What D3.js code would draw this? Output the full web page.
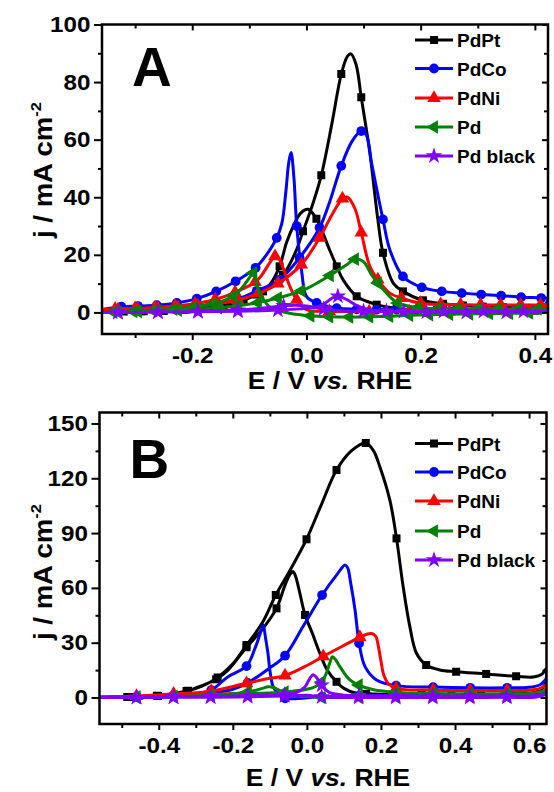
<!DOCTYPE html>
<html>
<head>
<meta charset="utf-8">
<script src="https://cdn.jsdelivr.net/npm/d3@7"></script>
<style>
body { margin: 0; background: #fff; }
svg text { font-family: 'Liberation Sans', Arial, sans-serif; font-weight: bold; fill: #000; }
</style>
</head>
<body>
<div class="chart"></div>
<script>
// legend / series
var seriesNames  = ['PdPt', 'PdCo', 'PdNi', 'Pd', 'Pd black'];
var seriesColors = ['#000000', '#0000ff', '#ff0000', '#008000', '#8000ff'];

/* panel A : [E (V vs RHE), j (mA cm-2), marker?] forward then backward scan */
var aPdPtFwd = [[-0.358,0.2,0],[-0.32,0.3,1],[-0.285,0.4,1],[-0.25,0.6,1],[-0.215,0.9,1],[-0.18,1.4,1],[-0.145,2.5,1],[-0.11,4.3,1],[-0.076,7.3,1],[-0.041,13,1],[-0.018,21.5,0],[-0.006,28.2,1],[0.01,37,0],[0.026,47.6,1],[0.045,66,0],[0.061,82.8,1],[0.072,89,0],[0.078,89.8,0],[0.087,86,0],[0.096,74.7,1],[0.111,55.5,0],[0.125,32.3,0],[0.134,20.7,1],[0.152,10.2,0],[0.169,7.3,1],[0.204,4.2,1],[0.239,3,1],[0.274,2.4,1],[0.309,2,1],[0.344,1.8,1],[0.379,1.6,1],[0.414,1.6,1],[0.423,1.7,0]];
var aPdPtBwd = [[0.423,1.7,0],[0.4,0.6,1],[0.33,0.5,1],[0.26,0.6,1],[0.19,0.9,1],[0.158,1.4,1],[0.123,2.7,1],[0.088,5.6,1],[0.064,11.4,0],[0.053,16,1],[0.041,21.5,0],[0.0175,32.5,1],[0.003,35.8,0],[-0.01,34.5,0],[-0.023,30,0],[-0.035,24.2,0],[-0.047,16,1],[-0.064,9.7,0],[-0.088,6.2,1],[-0.116,3.8,0],[-0.13,3,1],[-0.17,1.6,1],[-0.21,1,1],[-0.25,0.6,1],[-0.29,0.4,1],[-0.33,0.3,1],[-0.358,0.2,0]];
var aPdCoFwd = [[-0.358,1,0],[-0.33,1,1],[-0.295,1.2,1],[-0.26,1.4,1],[-0.225,1.7,1],[-0.19,2.2,1],[-0.155,3,1],[-0.122,4.5,1],[-0.087,7.5,1],[-0.047,11.4,1],[-0.012,19,1],[0.023,29.4,1],[0.04,38,0],[0.061,50.9,1],[0.08,59.5,0],[0.096,63,1],[0.105,61.5,0],[0.114,52,0],[0.134,32.3,1],[0.146,21.8,0],[0.169,12.5,1],[0.202,8.7,1],[0.237,7.3,1],[0.272,6.7,1],[0.306,6.2,1],[0.341,5.8,1],[0.376,5.3,1],[0.411,5,1],[0.423,4.8,0]];
var aPdCoBwd = [[0.423,4.8,0],[0.412,1.5,0],[0.403,1.2,1],[0.368,1.1,1],[0.333,1,1],[0.298,1,1],[0.263,1,1],[0.228,1,1],[0.193,1,1],[0.158,1,1],[0.123,1,1],[0.088,1.1,1],[0.053,1.5,1],[0.018,3.3,1],[0,5.6,0],[-0.008,13.7,0],[-0.017,30,1],[-0.022,47,0],[-0.027,55.5,0],[-0.031,52,0],[-0.036,42,0],[-0.043,31,0],[-0.052,25.9,1],[-0.07,20,0],[-0.089,15.5,1],[-0.124,10.8,1],[-0.158,7.3,1],[-0.192,4.8,1],[-0.227,3.3,1],[-0.262,2.5,1],[-0.295,2.2,1],[-0.324,2,1],[-0.358,1,0]];
var aPdNiFwd = [[-0.358,1,0],[-0.33,1,1],[-0.295,1.1,1],[-0.26,1.3,1],[-0.225,1.7,1],[-0.19,2.2,1],[-0.155,3.1,1],[-0.12,4.3,1],[-0.085,6.5,1],[-0.05,10,1],[-0.009,16.6,1],[0.023,25.9,1],[0.045,34,0],[0.063,39.5,1],[0.072,40,0],[0.085,36,0],[0.096,27.7,1],[0.111,16,0],[0.125,11.4,1],[0.146,6.7,0],[0.166,5,1],[0.2,3.2,1],[0.235,2.8,1],[0.27,2.7,1],[0.305,2.6,1],[0.34,2.6,1],[0.375,2.6,1],[0.41,2.6,1],[0.423,2.6,0]];
var aPdNiBwd = [[0.423,2.6,0],[0.415,0.8,0],[0.39,0.5,1],[0.32,0.4,1],[0.25,0.3,1],[0.18,0.3,1],[0.11,0.3,1],[0.04,0.4,1],[0,1,0],[-0.017,4.4,1],[-0.029,9,0],[-0.04,15,0],[-0.05,19.2,0],[-0.055,19.5,1],[-0.065,17,0],[-0.08,12.5,0],[-0.09,10.5,1],[-0.125,7,1],[-0.16,4.5,1],[-0.195,3,1],[-0.23,2.2,1],[-0.265,1.7,1],[-0.3,1.4,1],[-0.335,1.2,1],[-0.358,1,0]];
var aPdFwd = [[-0.358,0,0],[-0.33,0.1,1],[-0.295,0.3,1],[-0.26,0.5,1],[-0.225,0.8,1],[-0.19,1.1,1],[-0.155,1.6,1],[-0.12,2.3,1],[-0.085,3.4,1],[-0.05,5,1],[-0.009,7.5,1],[0.003,8.5,0],[0.041,12.8,1],[0.07,16.5,0],[0.085,18.5,1],[0.1,17.6,0],[0.114,13,0],[0.125,10.2,1],[0.146,5.5,0],[0.16,3.3,1],[0.195,1.6,1],[0.23,1.3,1],[0.265,1.2,1],[0.3,1.2,1],[0.335,1.2,1],[0.37,1.2,1],[0.405,1.2,1],[0.423,1.2,0]];
var aPdBwd = [[0.423,1.2,0],[0.415,0,0],[0.39,-0.2,1],[0.355,-0.3,1],[0.32,-0.4,1],[0.285,-0.5,1],[0.25,-0.6,1],[0.215,-0.8,1],[0.18,-1,1],[0.145,-1.3,1],[0.11,-1.5,1],[0.075,-1.6,1],[0.04,-1.5,1],[0.007,-1.2,1],[-0.03,-0.3,0],[-0.05,0.8,0],[-0.065,2,0],[-0.075,4.4,0],[-0.084,7.9,0],[-0.093,13.7,1],[-0.1,12,0],[-0.111,9,0],[-0.128,5.6,1],[-0.163,3,1],[-0.198,1.8,1],[-0.233,1.1,1],[-0.268,0.6,1],[-0.303,0.3,1],[-0.338,0.1,1],[-0.358,0,0]];
var aPdBlackFwd = [[-0.358,0,0],[-0.33,0,1],[-0.26,0.1,1],[-0.19,0.3,1],[-0.12,0.8,1],[-0.07,1.6,0],[-0.04,2.3,1],[-0.02,2.5,0],[0,2.2,0],[0.03,1.2,1],[0.06,0.6,0],[0.1,0.4,1],[0.17,0.3,1],[0.24,0.3,1],[0.31,0.3,1],[0.38,0.3,1],[0.423,0.3,0]];
var aPdBlackBwd = [[0.423,0.3,0],[0.35,0,1],[0.28,0,1],[0.21,0.1,1],[0.14,0.4,1],[0.11,1,0],[0.09,2.2,0],[0.07,4.5,0],[0.055,5.6,1],[0.045,5,0],[0.035,3.5,0],[0.02,2,0],[0,1.4,0],[-0.05,0.8,1],[-0.12,0.4,1],[-0.19,0.2,1],[-0.26,0.1,1],[-0.33,0,1],[-0.358,0,0]];

/* panel B */
var bPdPtFwd = [[-0.56,0,0],[-0.48,0.3,1],[-0.402,0.8,1],[-0.321,3.7,1],[-0.28,6.5,0],[-0.241,11,1],[-0.2,18.5,0],[-0.163,28.7,1],[-0.12,41,0],[-0.084,56.1,1],[-0.05,68,0],[-0.023,78,0],[-0.001,86.6,1],[0.04,106,0],[0.08,124.5,1],[0.12,135,0],[0.159,139.3,1],[0.18,135,0],[0.197,126.3,0],[0.224,108,0],[0.242,87.1,1],[0.26,60.6,0],[0.278,38.8,0],[0.296,24.2,0],[0.322,17.8,1],[0.359,15.1,0],[0.403,14.1,1],[0.484,12.9,1],[0.565,11.6,1],[0.611,11.2,0],[0.635,12.8,0],[0.647,16,0]];
var bPdPtBwd = [[0.647,16,0],[0.64,6,0],[0.62,3,0],[0.55,2,1],[0.47,1.8,1],[0.39,1.6,1],[0.31,1.5,1],[0.23,1.5,1],[0.16,2,1],[0.134,2.3,0],[0.1,5,0],[0.08,8.6,1],[0.055,15,0],[0.035,24.2,0],[0.015,35,0],[-0.005,45.2,1],[-0.02,58,0],[-0.03,66,0],[-0.037,68.9,0],[-0.045,67.5,0],[-0.06,61,0],[-0.082,48.8,1],[-0.122,36.9,0],[-0.163,27.5,1],[-0.213,15,0],[-0.245,10,1],[-0.303,5,0],[-0.325,3.5,1],[-0.405,1,1],[-0.485,0.3,1],[-0.56,0,0]];
var bPdCoFwd = [[-0.56,0.3,0],[-0.46,0.5,1],[-0.36,1,1],[-0.26,2.5,1],[-0.2,4.5,0],[-0.16,8,1],[-0.105,15.5,0],[-0.059,22.9,1],[-0.01,39,0],[0.041,56.1,1],[0.08,67,0],[0.103,72.5,0],[0.11,71,0],[0.118,63,0],[0.13,47.9,0],[0.141,29.7,1],[0.157,16.9,0],[0.188,9.6,0],[0.241,6.5,1],[0.341,5.7,1],[0.441,5.3,1],[0.541,5.3,1],[0.6,5.6,0],[0.63,7,0],[0.647,10,0]];
var bPdCoBwd = [[0.647,10,0],[0.64,3,0],[0.62,2,0],[0.541,1.5,1],[0.441,1.3,1],[0.341,1.2,1],[0.241,1.2,1],[0.141,1,1],[0.041,0.5,1],[-0.059,-0.4,1],[-0.075,1.5,0],[-0.091,5.9,0],[-0.1,15,0],[-0.105,24,0],[-0.112,33,0],[-0.118,39.7,0],[-0.126,35,0],[-0.14,27,0],[-0.163,17.2,1],[-0.213,11.4,0],[-0.258,4.1,1],[-0.3,2,0],[-0.36,1,1],[-0.46,0.5,1],[-0.56,0.3,0]];
var bPdNiFwd = [[-0.56,0.2,0],[-0.46,0.8,1],[-0.36,2,1],[-0.258,3.5,1],[-0.163,7.8,1],[-0.1,10.5,0],[-0.059,12,1],[0,17.5,0],[0.044,22.5,1],[0.1,28.5,0],[0.143,33,1],[0.16,34.5,0],[0.175,35,0],[0.186,33.5,0],[0.193,28,0],[0.2,20,0],[0.208,12,0],[0.22,7.5,0],[0.241,5,1],[0.341,4,1],[0.441,3.8,1],[0.541,3.8,1],[0.6,4,0],[0.63,5,0],[0.647,7,0]];
var bPdNiBwd = [[0.647,7,0],[0.635,2,0],[0.6,1,0],[0.5,0.8,0],[0.3,0.7,0],[0.1,0.5,0],[0,0.5,0],[-0.1,1.5,0],[-0.15,2.5,0],[-0.25,1.5,0],[-0.4,0.5,0],[-0.56,0.2,0]];
var bPdFwd = [[-0.56,0,0],[-0.46,0.2,1],[-0.36,0.5,1],[-0.26,1,1],[-0.16,2,1],[-0.06,3,1],[0,4.5,0],[0.022,5.9,0],[0.04,8.5,1],[0.052,13,0],[0.062,19,0],[0.069,22.3,0],[0.078,20.5,0],[0.089,16.9,0],[0.116,9.6,0],[0.14,6.8,1],[0.18,4.2,0],[0.24,2.8,1],[0.34,2.2,1],[0.44,2,1],[0.54,2,1],[0.6,2.2,0],[0.647,3.5,0]];
var bPdBwd = [[0.647,3.5,0],[0.62,0.8,0],[0.54,0.5,1],[0.44,0.4,1],[0.34,0.4,1],[0.24,0.3,1],[0.14,0.2,1],[0.04,0,1],[0,0.5,0],[-0.04,1.5,0],[-0.07,3.5,0],[-0.09,5.5,0],[-0.105,5.9,0],[-0.12,5,0],[-0.16,3,1],[-0.26,1.2,1],[-0.36,0.4,1],[-0.46,0.1,1],[-0.56,0,0]];
var bPdBlackFwd = [[-0.56,0,0],[-0.46,0.1,1],[-0.36,0.3,1],[-0.26,0.5,1],[-0.16,1,1],[-0.06,1.5,1],[-0.03,2.5,0],[-0.005,5.9,0],[0.008,10.5,0],[0.017,12.5,0],[0.026,11,0],[0.04,6.8,1],[0.06,2.8,0],[0.1,1.3,0],[0.14,1,1],[0.24,0.8,1],[0.34,0.8,1],[0.44,0.8,1],[0.54,0.8,1],[0.6,0.8,0],[0.647,2,0]];
var bPdBlackBwd = [[0.647,2,0],[0.62,0.3,0],[0.54,0.1,1],[0.44,0,1],[0.34,0,1],[0.24,0,1],[0.14,0,1],[0.04,0.3,1],[0,1.2,0],[-0.06,0.8,1],[-0.16,0.4,1],[-0.26,0.2,1],[-0.36,0.1,1],[-0.46,0,1],[-0.56,0,0]];

// ticks
var aXTicks = [-0.2, 0, 0.2, 0.4];
var aXMinor = [-0.3, -0.1, 0.1, 0.3];
var aYTicks = [0, 20, 40, 60, 80, 100];
var aYMinor = [10, 30, 50, 70, 90];
var bXTicks = [-0.4, -0.2, 0, 0.2, 0.4, 0.6];
var bXMinor = [-0.5, -0.3, -0.1, 0.1, 0.3, 0.5];
var bYTicks = [0, 30, 60, 90, 120, 150];
var bYMinor = [15, 45, 75, 105, 135];

// marker shapes per series
var symbolTypes = [d3.symbolSquare, d3.symbolCircle, d3.symbolTriangle, d3.symbolTriangle, d3.symbolStar];
var symbolSizes = [64, 75, 80, 80, 85];
var symbolRot   = ['', '', '', ' rotate(-90)', ''];

// glyphs in the original are a bit wider than Arial Bold
var stretch = 1.1;

function marker(i){
    return d3.symbol().type(symbolTypes[i]).size(symbolSizes[i])();
}

var svg = d3.select('.chart').append('svg')
    .attr('width', 554)
    .attr('height', 792);

// panel -> drawing
function drawPanel(p){
    var x = d3.scaleLinear().domain(p.xDomain).range([p.left, p.right]);
    var y = d3.scaleLinear().domain(p.yDomain).range([p.bottom, p.top]);
    var w = p.right - p.left;
    var h = p.bottom - p.top;

    svg.append('clipPath').attr('id', 'clip' + p.id)
        .append('rect')
        .attr('x', p.left).attr('y', p.top)
        .attr('width', w).attr('height', h);

    var line = d3.line()
        .x((d) => { return x(d[0]); })
        .y((d) => { return y(d[1]); })
        .curve(d3.curveCatmullRom.alpha(0.5));

    var plot = svg.append('g').attr('clip-path', `url(#clip${p.id})`);

    p.series.forEach((s, i) => {
        var pts = s[0].concat(s[1].slice(1));
        plot.append('path')
            .attr('d', line(pts))
            .attr('fill', 'none')
            .attr('stroke', seriesColors[i])
            .attr('stroke-width', 3)
            .attr('stroke-linejoin', 'round');
        plot.selectAll(null)
            .data(pts.filter((d) => { return d[2]; }))
            .enter().append('path')
            .attr('d', marker(i))
            .attr('transform', (d) => { return `translate(${x(d[0])},${y(d[1])})${symbolRot[i]}`; })
            .attr('fill', seriesColors[i]);
    });

    // axes: outward left / bottom, inward top / right
    function styleAxis(g, labels){
        g.select('.domain').remove();
        g.selectAll('line').attr('stroke', '#000').attr('stroke-width', 2);
        g.attr('font-size', 22);
        if(!labels){ g.selectAll('text').remove(); }
        else { g.selectAll('text').attr('transform', `scale(${stretch},1)`); }
    }
    var fmtX = (d) => { return d.toFixed(1); };

    svg.append('g').attr('transform', `translate(0,${p.bottom})`)
        .call(d3.axisBottom(x).tickValues(p.xTicks).tickSize(6).tickPadding(7).tickFormat(fmtX))
        .call((g) => styleAxis(g, true));
    svg.append('g').attr('transform', `translate(0,${p.bottom})`)
        .call(d3.axisBottom(x).tickValues(p.xMinor).tickSize(4))
        .call((g) => styleAxis(g, false));
    svg.append('g').attr('transform', `translate(0,${p.top})`)
        .call(d3.axisBottom(x).tickValues(p.xTicks).tickSize(6))
        .call((g) => styleAxis(g, false));
    svg.append('g').attr('transform', `translate(0,${p.top})`)
        .call(d3.axisBottom(x).tickValues(p.xMinor).tickSize(4))
        .call((g) => styleAxis(g, false));

    svg.append('g').attr('transform', `translate(${p.left},0)`)
        .call(d3.axisLeft(y).tickValues(p.yTicks).tickSize(8).tickPadding(2.5).tickFormat(d3.format('d')))
        .call((g) => styleAxis(g, true));
    svg.append('g').attr('transform', `translate(${p.left},0)`)
        .call(d3.axisLeft(y).tickValues(p.yMinor).tickSize(4))
        .call((g) => styleAxis(g, false));
    svg.append('g').attr('transform', `translate(${p.right},0)`)
        .call(d3.axisLeft(y).tickValues(p.yTicks).tickSize(6))
        .call((g) => styleAxis(g, false));
    svg.append('g').attr('transform', `translate(${p.right},0)`)
        .call(d3.axisLeft(y).tickValues(p.yMinor).tickSize(4))
        .call((g) => styleAxis(g, false));

    // frame
    svg.append('rect')
        .attr('x', p.left).attr('y', p.top)
        .attr('width', w).attr('height', h)
        .attr('fill', 'none')
        .attr('stroke', '#000')
        .attr('stroke-width', 2.5);

    // axis titles
    var xt = svg.append('text')
        .attr('transform', `translate(${p.left + w / 2 + 5},${p.xTitleY}) scale(${stretch},1)`)
        .attr('text-anchor', 'middle')
        .attr('font-size', 24);
    xt.append('tspan').text('E / V ');
    xt.append('tspan').attr('font-style', 'italic').text('vs.');
    xt.append('tspan').text(' RHE');

    var yt = svg.append('text')
        .attr('transform', `translate(52,${p.yTitleY}) rotate(-90) scale(${stretch},1)`)
        .attr('text-anchor', 'middle')
        .attr('font-size', 25);
    yt.append('tspan').text('j / mA cm');
    yt.append('tspan').attr('font-size', 15).attr('dy', -11).text('-2');

    // panel letter
    svg.append('text')
        .attr('x', p.left + 30)
        .attr('y', p.letterY)
        .attr('font-size', 55)
        .text(p.letter);

    // legend
    var lg = svg.append('g');
    seriesNames.forEach((name, i) => {
        var ly = p.legendY[i];
        lg.append('line')
            .attr('x1', 415).attr('x2', 453)
            .attr('y1', ly).attr('y2', ly)
            .attr('stroke', seriesColors[i])
            .attr('stroke-width', 3);
        lg.append('path')
            .attr('d', marker(i))
            .attr('transform', `translate(434,${ly})${symbolRot[i]}`)
            .attr('fill', seriesColors[i]);
        lg.append('text')
            .attr('x', 457)
            .attr('y', ly + 7)
            .attr('font-size', 19)
            .text(name);
    });
}

drawPanel({
    id: 'A', letter: 'A',
    left: 102, right: 548, top: 24.5, bottom: 334,
    xDomain: [-0.358, 0.423], yDomain: [-7.5, 100],
    xTicks: aXTicks, xMinor: aXMinor, yTicks: aYTicks, yMinor: aYMinor,
    xTitleY: 389, yTitleY: 170, letterY: 86,
    legendY: [40, 68.5, 98, 127, 156],
    series: [[aPdPtFwd, aPdPtBwd], [aPdCoFwd, aPdCoBwd], [aPdNiFwd, aPdNiBwd], [aPdFwd, aPdBwd], [aPdBlackFwd, aPdBlackBwd]]
});

drawPanel({
    id: 'B', letter: 'B',
    left: 99.5, right: 546.5, top: 412.5, bottom: 724,
    xDomain: [-0.56, 0.647], yDomain: [-14.5, 156],
    xTicks: bXTicks, xMinor: bXMinor, yTicks: bYTicks, yMinor: bYMinor,
    xTitleY: 786, yTitleY: 572, letterY: 478,
    legendY: [443.5, 472, 501, 531, 560],
    series: [[bPdPtFwd, bPdPtBwd], [bPdCoFwd, bPdCoBwd], [bPdNiFwd, bPdNiBwd], [bPdFwd, bPdBwd], [bPdBlackFwd, bPdBlackBwd]]
});
</script>
</body>
</html>
